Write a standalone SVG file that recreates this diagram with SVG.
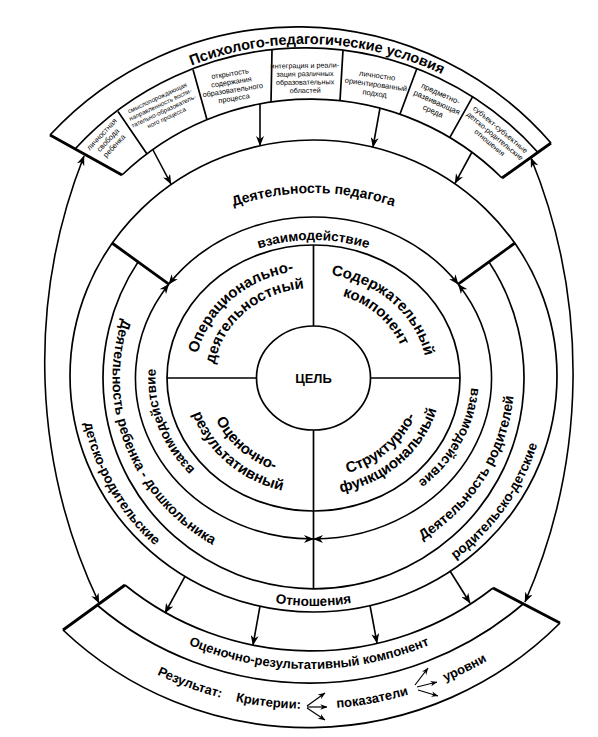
<svg xmlns="http://www.w3.org/2000/svg" width="598" height="737" viewBox="0 0 598 737">
<style>
.ln{fill:none;stroke:#000;stroke-width:1.7}
.th{fill:none;stroke:#000;stroke-width:2.8}
.ar{fill:none;stroke:#000;stroke-width:1.6;marker-end:url(#ah)}
.dbl{fill:none;stroke:#000;stroke-width:1.6;marker-start:url(#ah);marker-end:url(#ah)}
.sm{fill:none;stroke:#000;stroke-width:1.2;marker-end:url(#ahs)}
text{font-family:"Liberation Sans",Arial,sans-serif;fill:#000}
.b{font-weight:bold}
.c{text-anchor:middle}
</style>
<defs>
<marker id="ah" viewBox="0 0 10 8" refX="9.5" refY="4" markerWidth="10" markerHeight="8" markerUnits="userSpaceOnUse" orient="auto-start-reverse"><path d="M0,0 L10,4 L0,8 L3,4 Z" fill="#000"/></marker>
<marker id="ahs" viewBox="0 0 10 8" refX="9.5" refY="4" markerWidth="7" markerHeight="5.6" markerUnits="userSpaceOnUse" orient="auto"><path d="M0,0 L10,4 L0,8 L3,4 Z" fill="#000"/></marker>
<path id="p-title" d="M32.8,202 A316,316 0 0 1 580.2,202"/>
<path id="p-ped" d="M98.5,378 A215,185 0 0 1 528.5,378"/>
<path id="p-vz" d="M313.5,516 A158,138 0 0 1 313.5,240 A158,138 0 0 1 313.5,516"/>
<path id="p-in" d="M313.5,185 A201,193 0 0 0 313.5,571 A201,193 0 0 0 313.5,185"/>
<path id="p-out" d="M313.5,150 A234,228 0 0 0 313.5,606 A234,228 0 0 0 313.5,150"/>
<path id="p-op1" d="M210.4,432 A119,108 0 0 1 373,284.5"/>
<path id="p-op2" d="M226.9,423 A100,90 0 0 1 363.5,300.1"/>
<path id="p-so1" d="M256.5,287.9 A114,104 0 0 1 412.2,430"/>
<path id="p-so2" d="M266.5,303.5 A94,86 0 0 1 394.9,421"/>
<path id="p-oc1" d="M220,328.5 A108,99 0 0 0 367.5,463.7"/>
<path id="p-oc2" d="M203.5,320 A127,116 0 0 0 377,478.5"/>
<path id="p-st1" d="M258.5,464.6 A110,100 0 0 0 408.8,328"/>
<path id="p-st2" d="M249.5,479.3 A128,117 0 0 0 424.4,319.5"/>
<path id="p-ork" d="M14.9,463.1 A313,313 0 0 0 603.1,463.1"/>
<path id="p-res" d="M-22.7,476.7 A353,353 0 0 0 640.7,476.7"/>
</defs>
<rect width="598" height="737" fill="#fff"/>

<g id="conditions">
<path class="ln" d="M50,135 A336,336 0 0 1 551,143"/>
<path class="ln" d="M75,149 A312,312 0 0 1 538,152.5"/>
<path class="ln" d="M122,175 A272,272 0 0 1 502,178"/>
<path class="th" d="M50,135 L122,175 M551,143 L502,178"/>
<path class="ln" d="M118,111.4 L147,154 M193,69.4 L207,119.7 M272,49.9 L271,102 M343,50.1 L340,100.6 M417,68.2 L400,114 M473,96.1 L450,137.2"/>
<text class="b c" font-size="14.5"><textPath href="#p-title" startOffset="342">Психолого-педагогические условия</textPath></text>
<text class="c" font-size="7.5" transform="translate(108,140) rotate(-47)"><tspan x="0" y="-6">личностная</tspan><tspan x="0" y="2.5">свобода</tspan><tspan x="0" y="11">ребенка</tspan></text>
<text class="c" font-size="6.3" transform="translate(162,108) rotate(-25)"><tspan x="0" y="-9">смыслопорождающая</tspan><tspan x="0" y="-1.7">направленность воспи-</tspan><tspan x="0" y="5.6">тательно-образователь-</tspan><tspan x="0" y="12.9">ного процесса</tspan></text>
<text class="c" font-size="7.3" transform="translate(232,86) rotate(-9)"><tspan x="0" y="-10">открытость</tspan><tspan x="0" y="-1.7">содержания</tspan><tspan x="0" y="6.6">образовательного</tspan><tspan x="0" y="14.9">процесса</tspan></text>
<text class="c" font-size="7.2" transform="translate(305,78) rotate(-1)"><tspan x="0" y="-10">интеграция и реали-</tspan><tspan x="0" y="-1.7">зация различных</tspan><tspan x="0" y="6.6">образовательных</tspan><tspan x="0" y="14.9">областей</tspan></text>
<text class="c" font-size="7.5" transform="translate(376,84) rotate(8)"><tspan x="0" y="-6">личностно</tspan><tspan x="0" y="3">ориентированный</tspan><tspan x="0" y="12">подход</tspan></text>
<text class="c" font-size="7.8" transform="translate(437,102) rotate(24)"><tspan x="0" y="-6.5">предметно-</tspan><tspan x="0" y="3">развивающая</tspan><tspan x="0" y="12.5">среда</tspan></text>
<text class="c" font-size="7.3" transform="translate(495,136) rotate(40)"><tspan x="0" y="-6">субъект-субъектные</tspan><tspan x="0" y="2.5">детско-родительские</tspan><tspan x="0" y="11">отношения</tspan></text>
</g>

<g id="rings">
<ellipse class="ln" cx="313.5" cy="376" rx="243.5" ry="236"/>
<path class="ln" d="M138.1,261.9 A210.5,210.5 0 1 0 488.9,261.9"/>
<path class="th" d="M112,243 L168.8,284.2 M515,243 L458.2,284.2"/>
</g>

<g id="pedagog">
<text class="b c" font-size="14"><textPath href="#p-ped" startOffset="50%">Деятельность педагога</textPath></text>
</g>

<g id="interaction">
<text class="b c" font-size="13.5"><textPath href="#p-vz" startOffset="20%">взаимодействие</textPath></text>
<text class="b c" font-size="13.5"><textPath href="#p-vz" startOffset="50%">взаимодействие</textPath></text>
<text class="b c" font-size="13.5"><textPath href="#p-vz" startOffset="82%">взаимодействие</textPath></text>
</g>

<g id="child">
<text class="b c" font-size="14"><textPath href="#p-in" startOffset="30.8%">Деятельность ребенка - дошкольника</textPath></text>
<text class="b c" font-size="13.5"><textPath href="#p-out" startOffset="33.1%">детско-родительские</textPath></text>
</g>

<g id="parents">
<text class="b c" font-size="14"><textPath href="#p-in" startOffset="66.4%">Деятельность родителей</textPath></text>
<text class="b c" font-size="13.5"><textPath href="#p-out" startOffset="65.4%">родительско-детские</textPath></text>
</g>

<g id="relations">
<text class="b c" font-size="13.5"><textPath href="#p-out" startOffset="50%">Отношения</textPath></text>
</g>

<g id="core">
<ellipse class="ln" cx="313.5" cy="378" rx="146.5" ry="133"/>
<path class="ln" d="M313.5,245 L313.5,326 M313.5,430 L313.5,588.5 M167,378 L256.5,378 M370.5,378 L460,378"/>
<ellipse class="ln" cx="313.5" cy="378" rx="57" ry="52" fill="#fff"/>
<text class="b c" font-size="13" x="313.5" y="383">ЦЕЛЬ</text>
<text class="b c" font-size="15"><textPath href="#p-op1" startOffset="50%">Операционально-</textPath></text>
<text class="b c" font-size="15"><textPath href="#p-op2" startOffset="50%">деятельностный</textPath></text>
<text class="b c" font-size="15"><textPath href="#p-so1" startOffset="50%">Содержательный</textPath></text>
<text class="b c" font-size="15"><textPath href="#p-so2" startOffset="50%">компонент</textPath></text>
<text class="b c" font-size="15"><textPath href="#p-oc1" startOffset="50%">Оценочно-</textPath></text>
<text class="b c" font-size="15"><textPath href="#p-oc2" startOffset="50%">результативный</textPath></text>
<text class="b c" font-size="15"><textPath href="#p-st1" startOffset="50%">Структурно-</textPath></text>
<text class="b c" font-size="15"><textPath href="#p-st2" startOffset="50%">функциональный</textPath></text>
</g>

<g id="result">
<path class="ln" d="M125,585 A295,295 0 0 0 493,588"/>
<path class="ln" d="M97,605 A328,328 0 0 0 523,604"/>
<path class="ln" d="M63,630 A356,356 0 0 0 560,623"/>
<path class="th" d="M63,630 L125,585 M560,623 L493,588"/>
<text class="b c" font-size="13"><textPath href="#p-ork" startOffset="50%">Оценочно-результативный компонент</textPath></text>
<text class="b" font-size="13"><textPath href="#p-res" startOffset="274">Результат:</textPath></text>
<text class="b" font-size="13"><textPath href="#p-res" startOffset="357">Критерии:</textPath></text>
<text class="b" font-size="13"><textPath href="#p-res" startOffset="459">показатели</textPath></text>
<text class="b" font-size="13"><textPath href="#p-res" startOffset="571">уровни</textPath></text>
</g>

<g id="connectors">
<path class="ar" d="M153,150 L171,184"/>
<path class="ar" d="M260,104 L260,145.5"/>
<path class="ar" d="M380,108 L373,147"/>
<path class="ar" d="M472,152 L455,183.4"/>
<path class="dbl" d="M168.8,284.2 A178,161 0 0 1 458.2,284.2"/>
<path class="dbl" d="M168.8,284.2 A178,161 0 0 0 313.5,539"/>
<path class="dbl" d="M458.2,284.2 A178,161 0 0 1 313.5,539"/>
<path class="dbl" d="M84,156 A561,561 0 0 0 99,603"/>
<path class="dbl" d="M531,158 A570,570 0 0 1 525,602"/>
<path class="ar" d="M185,576.4 L165,613"/>
<path class="ar" d="M450,571 L470,603"/>
<path class="ar" d="M260,606 L253,645"/>
<path class="ar" d="M370,605.5 L377,643"/>
<path class="sm" d="M307,706 L325,693"/>
<path class="sm" d="M307,707 L327,707"/>
<path class="sm" d="M307,708 L325,720"/>
<path class="sm" d="M415,685 L428,668"/>
<path class="sm" d="M417,687 L437,682"/>
<path class="sm" d="M418,690 L438,696"/>
</g>
</svg>
